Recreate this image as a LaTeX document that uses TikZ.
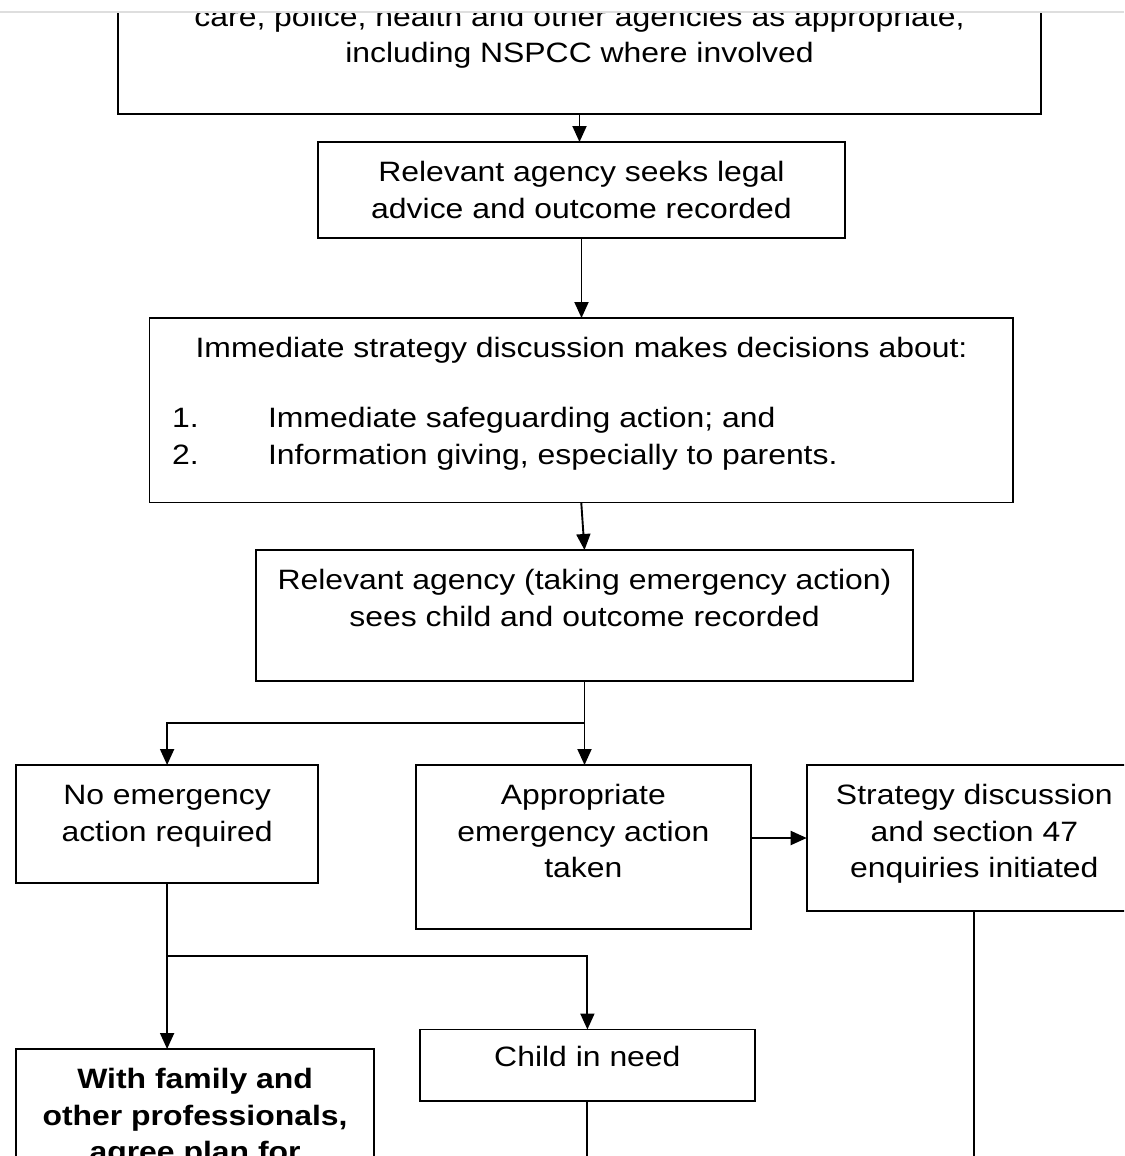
\documentclass[tikz,border=0pt]{standalone}
\usepackage{fontspec}
\setmainfont[FakeStretch=1.14]{Liberation Sans}
\usetikzlibrary{arrows.meta,calc}
\newcommand{\mlines}[1]{\parbox[t]{1000pt}{\centering\fontsize{28}{36.5}\selectfont #1}}
\begin{document}
\begin{tikzpicture}[x=1pt,y=-1pt,
  box/.style={draw=black, line width=1.9pt, inner sep=0pt, outer sep=0pt, rectangle},
  lbl/.style={inner sep=0pt, outer sep=0pt, anchor=base},
  lst/.style={inner sep=0pt, outer sep=0pt, anchor=base west, font=\fontsize{28}{36.5}\selectfont},
  arr/.style={line width=1.9pt, -{Triangle[length=16pt,width=14pt]}},
  ln/.style={line width=1.9pt}]
\useasboundingbox (0,0) rectangle (1124,1156);
\fill[white] (0,0) rectangle (1124,1156);
\draw[black!13, line width=2.4pt] (0,12) -- (1124,12);
\begin{scope}
\clip (0,13.3) rectangle (1124,1156);
% boxes
\node[box, minimum width=923pt, minimum height=174pt] (top) at (579.5,27) {};
\node[box, minimum width=527pt, minimum height=96pt] (b2) at (581.5,190) {};
\node[box, minimum width=863.5pt, minimum height=184.5pt] (b3) at (581.25,410.25) {};
\node[box, minimum width=657pt, minimum height=131pt] (b4) at (584.5,615.5) {};
\node[box, minimum width=302.6pt, minimum height=118.3pt] (b5) at (167.1,824.15) {};
\node[box, minimum width=334.7pt, minimum height=164.3pt] (b6) at (583.35,847.15) {};
\node[box, minimum width=335.3pt, minimum height=146pt] (b7) at (974.35,838) {};
\node[box, minimum width=358.6pt, minimum height=201pt] (b8) at (195.1,1149.5) {};
\node[box, minimum width=334.8pt, minimum height=71.5pt] (b9) at (587.4,1065.25) {};
% texts
\node[lbl] (t1) at (579.5,26.5) {\mlines{care, police, health and other agencies as appropriate,\\including NSPCC where involved}};
\node[lbl] (t2) at (581.5,181.7) {\mlines{Relevant agency seeks legal\\advice and outcome recorded}};
\node[lbl] (t3) at (581.5,357) {\mlines{Immediate strategy discussion makes decisions about:}};
\node[lst] (n1) at (172,427) {1.};
\node[lst] (l1) at (268,427) {Immediate safeguarding action; and};
\node[lst] (n2) at (172,464) {2.};
\node[lst] (l2) at (268,464) {Information giving, especially to parents.};
\node[lbl] (t4) at (584.5,589.5) {\mlines{Relevant agency (taking emergency action)\\sees child and outcome recorded}};
\node[lbl] (t5) at (167.1,804.5) {\mlines{No emergency\\action required}};
\node[lbl] (t6) at (583.35,804.5) {\mlines{Appropriate\\emergency action\\taken}};
\node[lbl] (t7) at (974.35,804.5) {\mlines{Strategy discussion\\and section 47\\enquiries initiated}};
\node[lbl] (t8) at (195.1,1088.5) {\mlines{\bfseries With family and\\other professionals,\\agree plan for}};
\node[lbl] (t9) at (587.4,1066.7) {\mlines{Child in need}};
% junctions and free ends
\coordinate (j1) at ($(b4.south)+(0,41.7)$);
\coordinate (j2) at ($(b5.south)+(0,72.4)$);
\coordinate (e7) at ($(b7.south)+(0,300)$);
\coordinate (e9) at ($(b9.south)+(0,300)$);
% connectors
\draw[arr] (top.south) -- (top.south |- b2.north);
\draw[arr] (b2.south) -- (b2.south |- b3.north);
\draw[arr] (b3.south) -- (b4.north);
\draw[ln] (b4.south) -- (j1);
\draw[arr] (j1) -- (j1 |- b6.north);
\draw[arr] (j1) -- (j1 -| b5.north) -- (b5.north);
\draw[arr] (b6.east |- b7.west) -- (b7.west);
\draw[ln] (b7.south) -- (e7);
\draw[arr] (b5.south) -- (b5.south |- b8.north);
\draw[arr] (j2) -- (j2 -| b9.north) -- (b9.north);
\draw[ln] (b9.south) -- (e9);
\end{scope}
\end{tikzpicture}
\end{document}
